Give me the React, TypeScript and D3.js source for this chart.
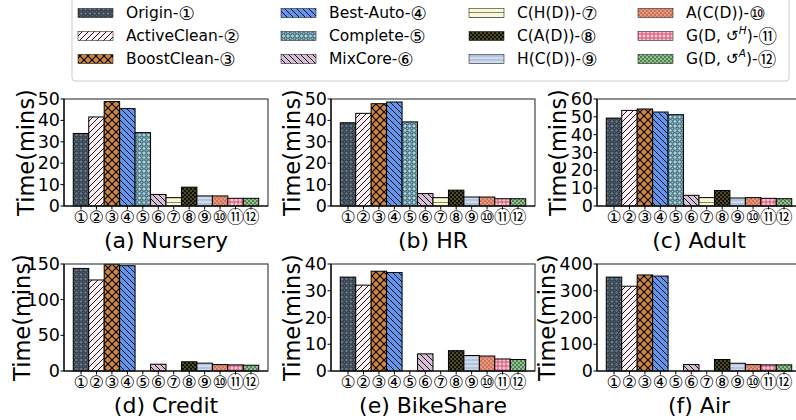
import * as d3 from 'd3';

// methods, in bar order
const methods = [
  'Origin', 'ActiveClean', 'BoostClean', 'Best-Auto', 'Complete', 'MixCore',
  'C(H(D))', 'C(A(D))', 'H(C(D))', 'A(C(D))', 'G(D, ', 'G(D, ',
];
const supers = ['', '', '', '', '', '', '', '', '', '', 'H', 'A'];
const circled = ['①', '②', '③', '④', '⑤', '⑥', '⑦', '⑧', '⑨', '⑩', '⑪', '⑫'];

const titles = ['(a) Nursery', '(b) HR', '(c) Adult', '(d) Credit', '(e) BikeShare', '(f) Air'];
const yMaxes = [50, 50, 60, 150, 40, 400];
const tickCounts = [5, 5, 6, 3, 4, 4];

// minutes (0 = not run)
const nursery = [33.9, 41.6, 48.8, 45.5, 34.3, 5.4, 3.9, 8.8, 4.7, 4.7, 3.6, 3.6];
const hr = [38.9, 43.3, 47.8, 48.6, 39.3, 5.8, 3.9, 7.4, 4.2, 4.2, 3.4, 3.4];
const adult = [49.3, 53.6, 54.4, 52.7, 51.2, 6.0, 4.7, 8.7, 4.5, 4.7, 4.3, 4.1];
const credit = [143.8, 127.6, 149.5, 147.6, 0, 9.5, 0, 12.9, 11, 9, 8.6, 8.1];
const bikeShare = [35.1, 32.1, 37.3, 36.8, 0, 6.4, 0, 7.6, 5.8, 5.6, 4.5, 4.3];
const air = [351, 317, 359, 355, 0, 24, 0, 43, 29, 24, 23, 23];
const series = [nursery, hr, adult, credit, bikeShare, air];

// layout of the six axes boxes
const panelLeft = [64, 331, 597];
const panelWidth = 204;
const rowTop = [99, 264];
const rowBottom = [206, 371];
const yLabelX = [26, 292, 558, 22, 292, 547];

const FONT = 'DejaVu Sans, Noto Sans CJK SC, sans-serif';

function Patterns() {
  const circles = (id: string, bg: string, s = 4.5, r = 1.5, col = '#000') => (
    <pattern id={id} width={s} height={s} patternUnits="userSpaceOnUse">
      <rect width={s} height={s} fill={bg} />
      <circle cx={s / 2} cy={s / 2} r={r} fill="none" stroke={col} strokeWidth={0.8} />
    </pattern>
  );
  const dots = (id: string, bg: string, col: string, s = 4, r = 0.8) => (
    <pattern id={id} width={s} height={s} patternUnits="userSpaceOnUse">
      <rect width={s} height={s} fill={bg} />
      <circle cx={1} cy={1} r={r} fill={col} />
      <circle cx={1 + s / 2} cy={1 + s / 2} r={r} fill={col} />
    </pattern>
  );
  const diag = (id: string, bg: string, dir: 1 | -1, s = 6) => (
    <pattern id={id} width={s} height={s} patternUnits="userSpaceOnUse">
      <rect width={s} height={s} fill={bg} />
      {dir === 1 ? (
        <path d={`M0,${s} L${s},0 M${-s / 2},${s / 2} L${s / 2},${-s / 2} M${s / 2},${s * 1.5} L${s * 1.5},${s / 2}`} stroke="#000" strokeWidth={0.9} />
      ) : (
        <path d={`M0,0 L${s},${s} M${-s / 2},${s / 2} L${s / 2},${s * 1.5} M${s / 2},${-s / 2} L${s * 1.5},${s / 2}`} stroke="#000" strokeWidth={0.9} />
      )}
    </pattern>
  );
  return (
    <defs>
      {circles('p0', '#65778a')}
      {diag('p1', '#fff0f5', 1)}
      <pattern id="p2" width={8} height={8} patternUnits="userSpaceOnUse">
        <rect width={8} height={8} fill="#cd853f" />
        <path d="M0,0 L8,8 M8,0 L0,8" stroke="#000" strokeWidth={1.1} />
      </pattern>
      {diag('p3', '#6495ed', -1)}
      {circles('p4', '#a3dcec')}
      {diag('p5', '#d8bfd8', -1)}
      <pattern id="p6" width={5} height={5} patternUnits="userSpaceOnUse">
        <rect width={5} height={5} fill="#fafad2" />
        <path d="M0,2.5 L5,2.5" stroke="#666" strokeWidth={0.8} />
      </pattern>
      {dots('p7', '#111', '#b8b040', 4, 0.7)}
      <pattern id="p8" width={5} height={4} patternUnits="userSpaceOnUse">
        <rect width={5} height={4} fill="#b0c4de" />
        <path d="M0,2 L5,2" stroke="#fff" strokeWidth={0.8} />
      </pattern>
      {dots('p9', '#e9967a', '#8b3a2a', 4, 0.7)}
      <pattern id="p10" width={4} height={4} patternUnits="userSpaceOnUse">
        <rect width={4} height={4} fill="#ffc0cb" />
        <path d="M2,0 L2,4 M0,2 L4,2" stroke="#b03060" strokeWidth={0.7} />
      </pattern>
      {dots('p11', '#8fc48f', '#0a2a0a', 4, 0.8)}
    </defs>
  );
}

function Panel({ idx }: { idx: number }) {
  const col = idx % 3;
  const row = Math.floor(idx / 3);
  const left = panelLeft[col];
  const right = left + panelWidth;
  const top = rowTop[row];
  const bottom = rowBottom[row];
  const data = series[idx];

  const x = d3.scaleBand<number>()
    .domain(d3.range(data.length))
    .range([left, right])
    .paddingInner(0)
    .paddingOuter(0.6);
  const y = d3.scaleLinear().domain([0, yMaxes[idx]]).range([bottom, top]);
  const ticks = y.ticks(tickCounts[idx]);
  const midY = (top + bottom) / 2;

  return (
    <g>
      {data.map((v, i) => (
        <rect
          key={i}
          x={x(i)}
          y={y(v)}
          width={x.bandwidth()}
          height={bottom - y(v)}
          fill={`url(#p${i})`}
          stroke="#000"
          strokeWidth={1}
        />
      ))}
      <rect x={left} y={top} width={panelWidth} height={bottom - top} fill="none" stroke="#444" strokeWidth={1.2} />
      <line x1={left} x2={left} y1={top} y2={bottom} stroke="#000" strokeWidth={1.2} />
      <line x1={left} x2={right} y1={bottom} y2={bottom} stroke="#000" strokeWidth={1.2} />
      {ticks.map((t) => (
        <g key={t}>
          <line x1={left - 3.5} x2={left} y1={y(t)} y2={y(t)} stroke="#000" />
          <text x={left - 4} y={y(t)} textAnchor="end" dominantBaseline="central" fontSize={17.5} fontFamily={FONT}>
            {t}
          </text>
        </g>
      ))}
      {data.map((_, i) => (
        <g key={i}>
          <line x1={x(i)! + x.bandwidth() / 2} x2={x(i)! + x.bandwidth() / 2} y1={bottom} y2={bottom + 3.5} stroke="#000" />
          <text
            x={x(i)! + x.bandwidth() / 2}
            y={bottom + 11}
            textAnchor="middle"
            dominantBaseline="central"
            fontSize={17}
            fontFamily={FONT}
          >
            {circled[i]}
          </text>
        </g>
      ))}
      <text
        transform={`translate(${yLabelX[idx]},${midY}) rotate(-90)`}
        textAnchor="middle"
        dominantBaseline="central"
        fontSize={22.5}
        fontFamily={FONT}
      >
        Time(mins)
      </text>
      <text x={(left + right) / 2} y={bottom + 42} textAnchor="middle" fontSize={22} fontFamily={FONT}>
        {titles[idx]}
      </text>
    </g>
  );
}

function Legend() {
  const colPatchX = [78, 281, 469, 638];
  const rowY = [13, 36, 59];
  return (
    <g>
      <rect x={72} y={-3} width={717} height={84} rx={3} fill="#fff" stroke="#ccc" strokeWidth={1} />
      {methods.map((m, i) => {
        const c = Math.floor(i / 3);
        const r = i % 3;
        const px = colPatchX[c];
        const py = rowY[r];
        return (
          <g key={i}>
            <rect x={px} y={py - 4.5} width={35} height={9} fill={`url(#p${i})`} stroke="#000" strokeWidth={0.5} />
            <text x={px + 48} y={py} dominantBaseline="central" fontSize={15.5} fontFamily={FONT}>
              {m}
              {supers[i] ? (
                <>
                  {'↺'}
                  <tspan dy={-6} fontSize={10.5} fontStyle="italic">{supers[i]}</tspan>
                  <tspan dy={6}>{')-'}</tspan>
                </>
              ) : (
                '-'
              )}
              <tspan fontSize={18.5}>{circled[i]}</tspan>
            </text>
          </g>
        );
      })}
    </g>
  );
}

export default function App() {
  return (
    <div style={{ position: 'absolute', left: 0, top: 0, width: 796, height: 420, background: '#fff' }}>
      <svg width={796} height={420} viewBox="0 0 796 420">
        <Patterns />
        <rect width={796} height={420} fill="#fff" />
        <Legend />
        {d3.range(6).map((i) => (
          <Panel key={i} idx={i} />
        ))}
      </svg>
    </div>
  );
}
